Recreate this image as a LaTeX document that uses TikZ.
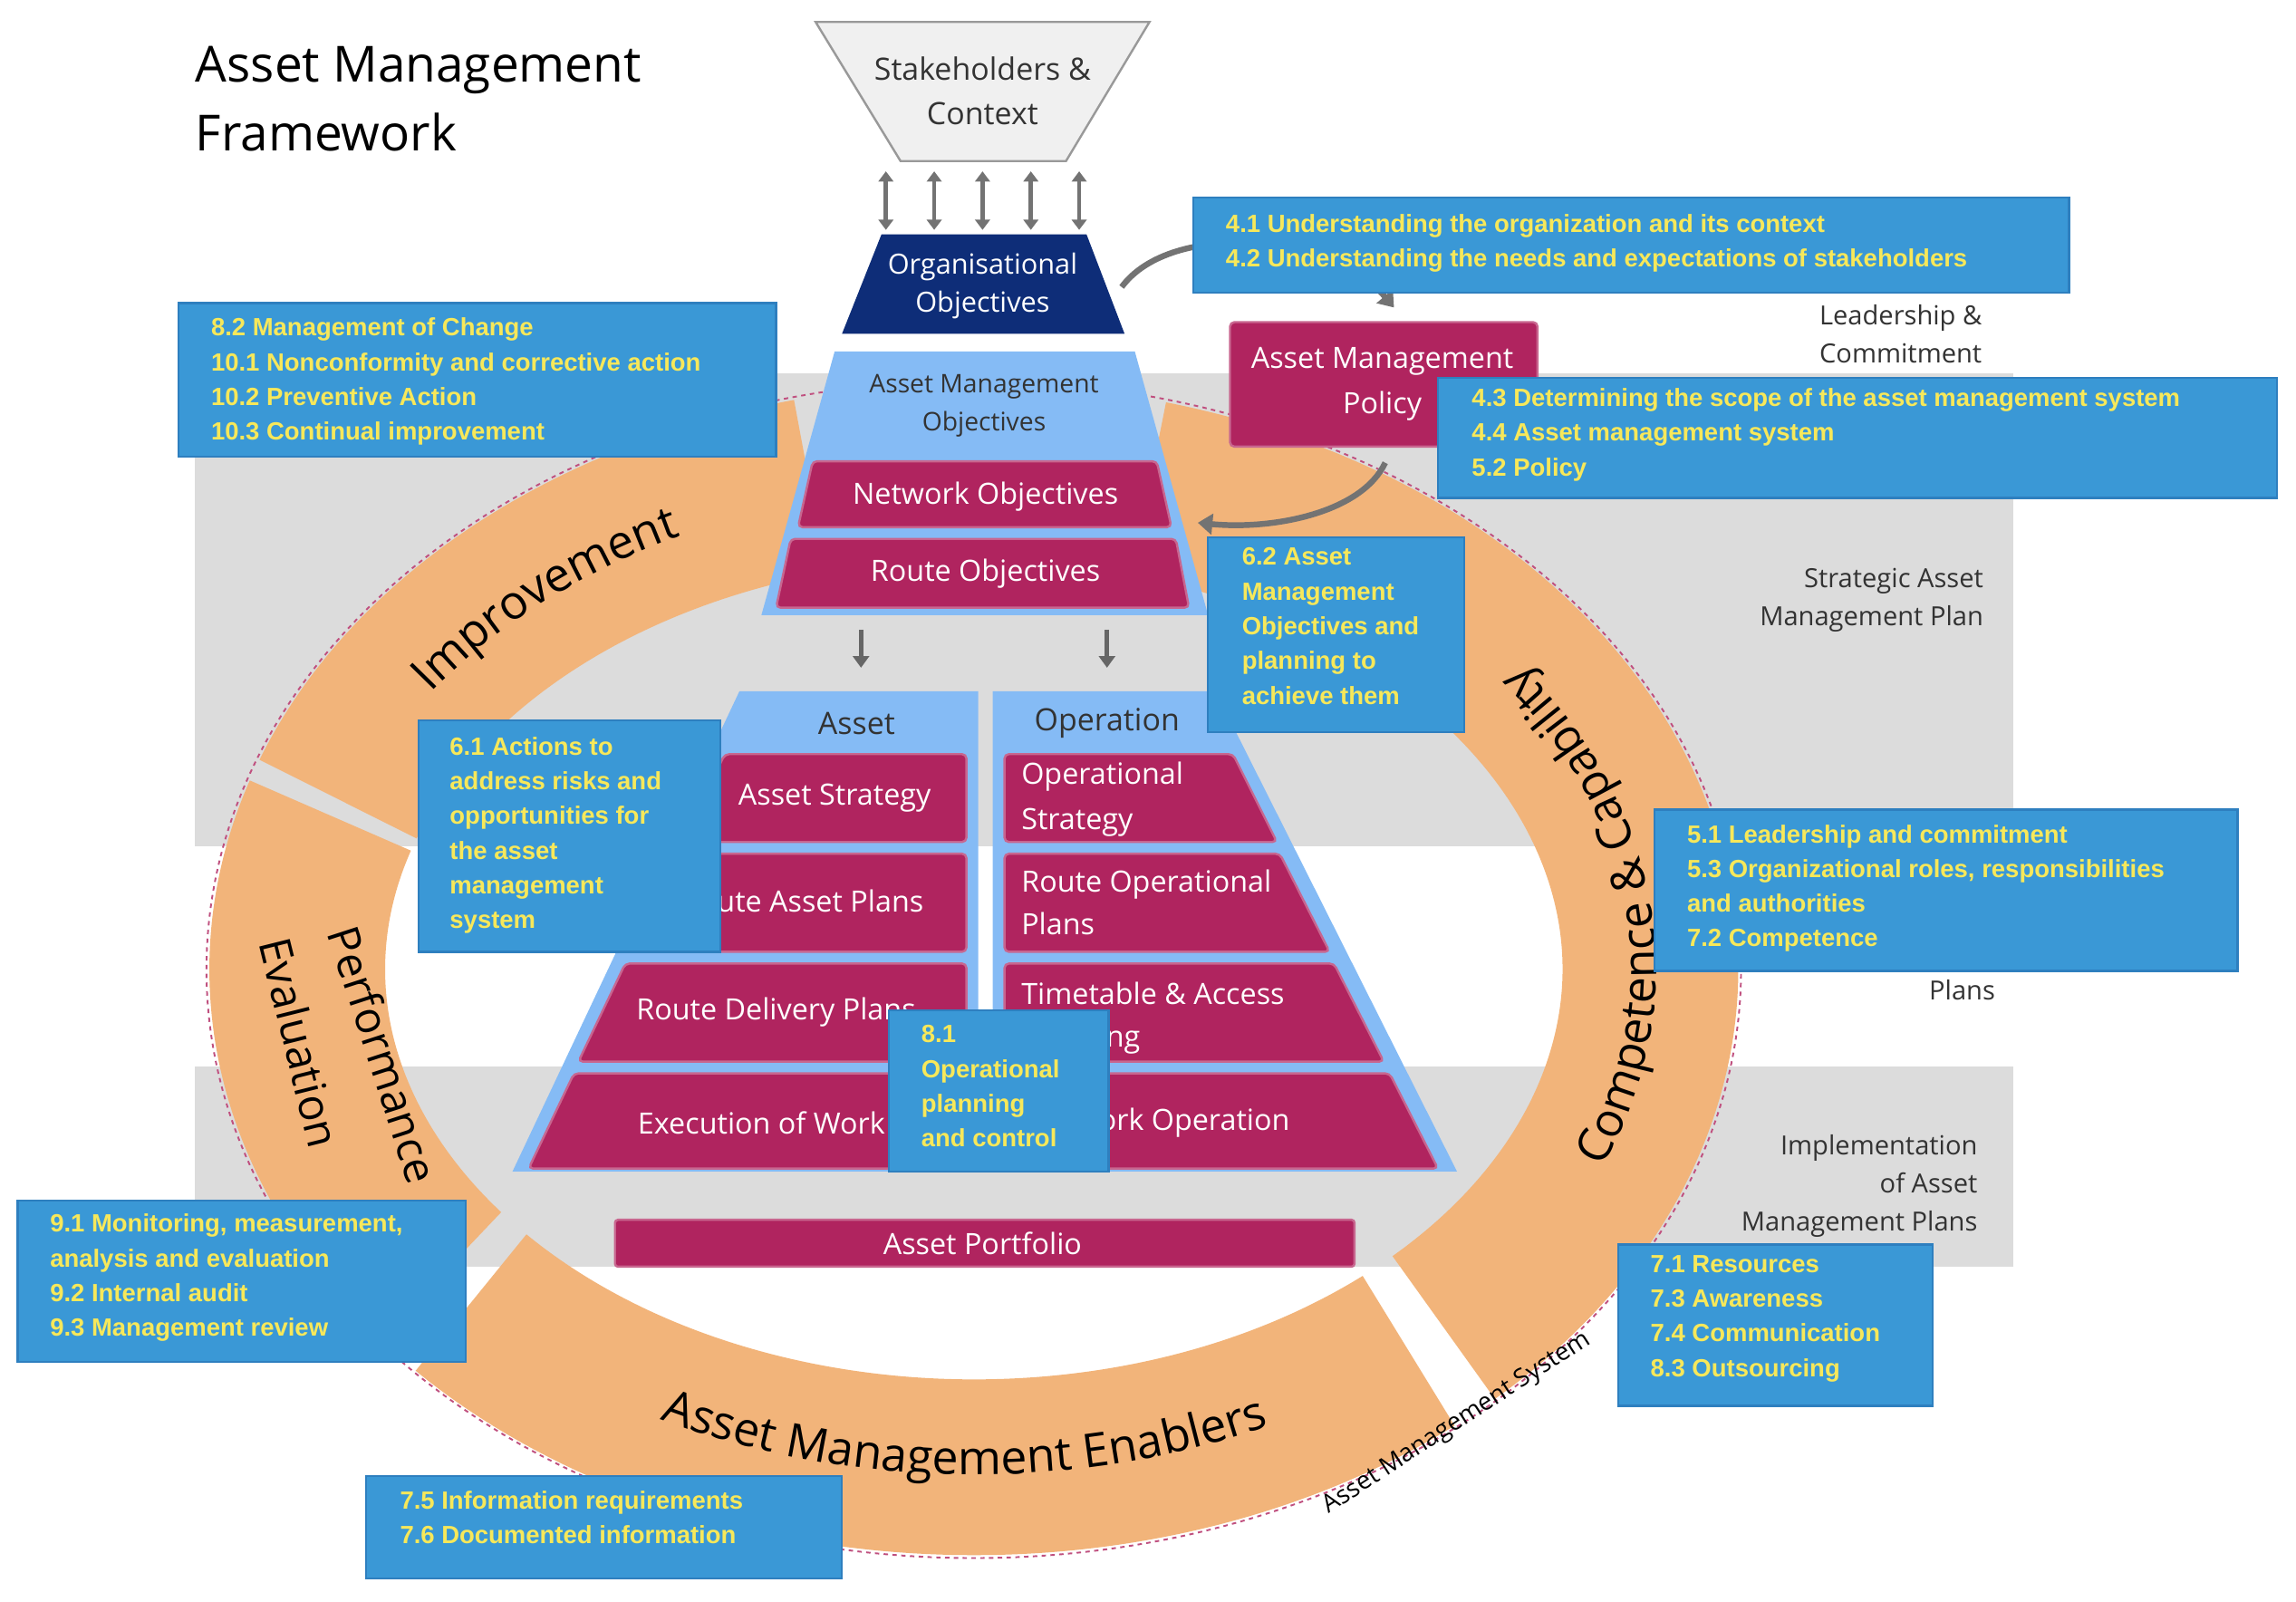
\documentclass[tikz,border=0pt]{standalone}
\usepackage{fontspec}
\setmainfont{Open Sans}
\newfontfamily\boxfont{Liberation Sans}
\usetikzlibrary{decorations.text,arrows.meta}
\definecolor{orng}{HTML}{F2B47A}
\definecolor{maroon}{HTML}{B0245F}
\definecolor{lblue}{HTML}{85BBF5}
\definecolor{navy}{HTML}{0E2D78}
\definecolor{band}{HTML}{DCDCDC}
\definecolor{bbox}{HTML}{3A98D6}
\definecolor{bboxd}{HTML}{2E7FBF}
\definecolor{yel}{HTML}{F7E85A}
\definecolor{dk}{HTML}{333333}
\begin{document}
\begin{tikzpicture}[x=1pt,y=1pt,
  ring/.style={orng,line width=120},
  mar/.style={fill=maroon,draw=maroon!70!white,line width=1.5,rounded corners=3},
  wt/.style={text=white,font=\fontsize{20}{26}\selectfont},
  bb/.style={fill=bbox,draw=bboxd,line width=1.5},
  bt/.style={text=yel,font=\boxfont\bfseries\fontsize{17}{23.7}\selectfont,align=left,anchor=north west,inner sep=0},
  rl/.style={text=dk,font=\fontsize{18}{26}\selectfont},
  garr/.style={draw=black!55,line width=4,-{Triangle[length=10,width=14]}},
  darr/.style={draw=black!55,line width=3,{Triangle[length=7,width=10]}-{Triangle[length=7,width=10]}},
  sarr/.style={draw=black!60,line width=3,-{Triangle[length=8,width=11]}}]
\useasboundingbox (0,0) rectangle (1568,-1094);
\fill[white] (0,0) rectangle (1568,-1094);
% bands
\fill[band] (133,-255) rectangle (1375,-578);
\fill[band] (133,-728) rectangle (1375,-865);
% ring
\coordinate (C) at (665,-662);
\draw[ring,shift={(C)}] (160:462 and 340) arc[start angle=160,end angle=104,x radius=462,y radius=340];
\draw[ring,shift={(C)}] (75:462 and 340) arc[start angle=75,end angle=-46,x radius=462,y radius=340];
\draw[ring,shift={(C)}] (-50:462 and 340) arc[start angle=-50,end angle=-138,x radius=462,y radius=340];
\draw[ring,shift={(C)}] (-142:462 and 340) arc[start angle=-142,end angle=-198,x radius=462,y radius=340];
\draw[maroon!80,dashed,line width=1.2] (C) ellipse[x radius=524,y radius=402];
% ring texts
\path[shift={(C)},decorate,decoration={text along path,text align=center,text format delimiters={|}{|},
  text={|\fontsize{32}{32}\selectfont|Asset Management Enablers}}]
  (-152:470 and 345) arc[start angle=-152,end angle=-30,x radius=470,y radius=345];
\path[shift={(C)},decorate,decoration={text along path,text align=center,text format delimiters={|}{|},
  text={|\fontsize{32}{32}\selectfont|Competence {\&} Capability}}]
  (-35:466 and 348) arc[start angle=-35,end angle=48,x radius=466,y radius=348];
\path[shift={(C)},decorate,decoration={text along path,text align=center,text format delimiters={|}{|},
  text={|\fontsize{32}{32}\selectfont|Improvement}}]
  (168:452 and 330) arc[start angle=168,end angle=98,x radius=452,y radius=330];
\node[rotate=-72,font=\fontsize{30}{30}\selectfont] (perf) at (262,-720) {Performance};
\node[rotate=-76,font=\fontsize{30}{30}\selectfont] (eval) at (205,-712) {Evaluation};
\node[rotate=33,font=\fontsize{17}{17}\selectfont] (ams) at (995,-972) {Asset Management System};
% stakeholders
\filldraw[fill=black!6,draw=black!40,line width=1.5] (557,-15)--(785,-15)--(728,-110)--(615,-110)--cycle;
\node[align=center,font=\fontsize{21}{30}\selectfont,text=dk] (stk) at (671,-62) {Stakeholders \&\\Context};
\foreach \i/\x in {1/605,2/638,3/671,4/704,5/737}{
  \coordinate (a\i) at (\x,-117); \coordinate (b\i) at (\x,-157);
  \draw[darr] (a\i)--(b\i);}
% org objectives
\fill[navy] (602,-160)--(742,-160)--(768,-228)--(575,-228)--cycle;
\node[align=center,text=white,font=\fontsize{19}{26}\selectfont] (org) at (671,-195) {Organisational\\Objectives};
% AM objectives
\fill[lblue] (570,-240)--(775,-240)--(825,-420)--(520,-420)--cycle;
\node[align=center,text=dk,font=\fontsize{17.5}{26}\selectfont] (amo) at (672,-277) {Asset Management\\Objectives};
\draw[mar] (555,-315)--(790,-315)--(800,-360)--(545,-360)--cycle;
\node[wt] (net) at (673,-339) {Network Objectives};
\draw[mar] (540,-368)--(803,-368)--(812,-415)--(530,-415)--cycle;
\node[wt] (rob) at (673,-392) {Route Objectives};
\coordinate (d1) at (588,-430); \coordinate (d2) at (588,-456);
\coordinate (d3) at (756,-430); \coordinate (d4) at (756,-456);
\draw[sarr] (d1)--(d2); \draw[sarr] (d3)--(d4);
% asset / operation panels
\fill[lblue] (505,-472)--(668,-472)--(668,-800)--(350,-800)--cycle;
\fill[lblue] (678,-472)--(830,-472)--(995,-800)--(678,-800)--cycle;
\node[text=dk,font=\fontsize{21}{26}\selectfont] (asl) at (585,-494) {Asset};
\node[text=dk,font=\fontsize{21}{26}\selectfont] (opl) at (756,-494) {Operation};
\draw[mar] (495,-515)--(660,-515)--(660,-575)--(466,-575)--cycle;
\draw[mar] (462,-583)--(660,-583)--(660,-650)--(431,-650)--cycle;
\draw[mar] (427,-658)--(660,-658)--(660,-725)--(395,-725)--cycle;
\draw[mar] (392,-733)--(660,-733)--(660,-798)--(361,-798)--cycle;
\draw[mar] (686,-515)--(842,-515)--(872,-575)--(686,-575)--cycle;
\draw[mar] (686,-583)--(874,-583)--(908,-650)--(686,-650)--cycle;
\draw[mar] (686,-658)--(911,-658)--(945,-725)--(686,-725)--cycle;
\draw[mar] (686,-733)--(949,-733)--(982,-798)--(686,-798)--cycle;
\node[wt] (as1) at (570,-545) {Asset Strategy};
\node[wt] (as2) at (548,-615) {Route Asset Plans};
\node[wt] (as3) at (530,-691) {Route Delivery Plans};
\node[wt] (as4) at (520,-767) {Execution of Work};
\node[wt,anchor=west,align=left,font=\fontsize{20}{31}\selectfont] (op1) at (694,-546) {Operational\\Strategy};
\node[wt,anchor=west,align=left,font=\fontsize{20}{29}\selectfont] (op2) at (694,-616) {Route Operational\\Plans};
\node[wt,anchor=west,align=left,font=\fontsize{20}{29}\selectfont] (op3) at (694,-695) {Timetable \& Access\\Planning};
\node[wt,anchor=west] (op4) at (698,-767) {Network Operation};
\draw[mar,rounded corners=2] (420,-833) rectangle (925,-865);
\node[wt] (port) at (671,-849) {Asset Portfolio};
% policy
\draw[mar] (840,-220) rectangle (1050,-305);
\node[wt] (pol1) at (944,-247) {Asset Management};
\node[wt] (pol2) at (944,-277) {Policy};
% curved arrows
\coordinate (c1) at (766,-196); \coordinate (c2) at (952,-210);
\coordinate (c3) at (946,-316); \coordinate (c4) at (818,-357);
\draw[garr] (c1) .. controls (800,-150) and (910,-160) .. (c2);
\draw[garr] (c3) .. controls (930,-350) and (870,-362) .. (c4);
% right labels
\node[rl,align=center] (lead) at (1298,-228) {Leadership \&\\Commitment};
\node[rl,align=right,anchor=east] (samp) at (1358,-410) {Strategic Asset\\Management Plan};
\node[rl] (plans) at (1340,-676) {Plans};
\node[rl,align=right,anchor=east] (impl) at (1354,-810) {Implementation\\of Asset\\Management Plans};
% title
\node[anchor=north west,align=left,font=\fontsize{34}{47}\selectfont] (title) at (130,-28) {Asset Management\\Framework};
% blue boxes
\draw[bb] (815,-135) rectangle (1413,-200);
\node[bt] (t41) at (837,-146) {4.1 Understanding the organization and its context\\4.2 Understanding the needs and expectations of stakeholders};
\draw[bb] (122,-207) rectangle (530,-312);
\node[bt] (t82) at (144,-217) {8.2 Management of Change\\10.1 Nonconformity and corrective action\\10.2 Preventive Action\\10.3 Continual improvement};
\draw[bb] (982,-258) rectangle (1555,-340);
\node[bt] (t43) at (1005,-265) {4.3 Determining the scope of the asset management system\\4.4 Asset management system\\5.2 Policy};
\draw[bb] (825,-367) rectangle (1000,-500);
\node[bt] (t62) at (848,-374) {6.2 Asset\\Management\\Objectives and\\planning to\\achieve them};
\draw[bb] (286,-492) rectangle (492,-650);
\node[bt] (t61) at (307,-503) {6.1 Actions to\\address risks and\\opportunities for\\the asset\\management\\system};
\draw[bb] (1130,-553) rectangle (1528,-663);
\node[bt] (t51) at (1152,-563) {5.1 Leadership and commitment\\5.3 Organizational roles, responsibilities\\and authorities\\7.2 Competence};
\draw[bb] (607,-690) rectangle (757,-800);
\node[bt] (t81) at (629,-700) {8.1\\Operational\\planning\\and control};
\draw[bb] (12,-820) rectangle (318,-930);
\node[bt] (t91) at (34,-829) {9.1 Monitoring, measurement,\\analysis and evaluation\\9.2 Internal audit\\9.3 Management review};
\draw[bb] (1105,-850) rectangle (1320,-960);
\node[bt] (t71) at (1127,-857) {7.1 Resources\\7.3 Awareness\\7.4 Communication\\8.3 Outsourcing};
\draw[bb] (250,-1008) rectangle (575,-1078);
\node[bt] (t75) at (273,-1018) {7.5 Information requirements\\7.6 Documented information};
\end{tikzpicture}
\end{document}
